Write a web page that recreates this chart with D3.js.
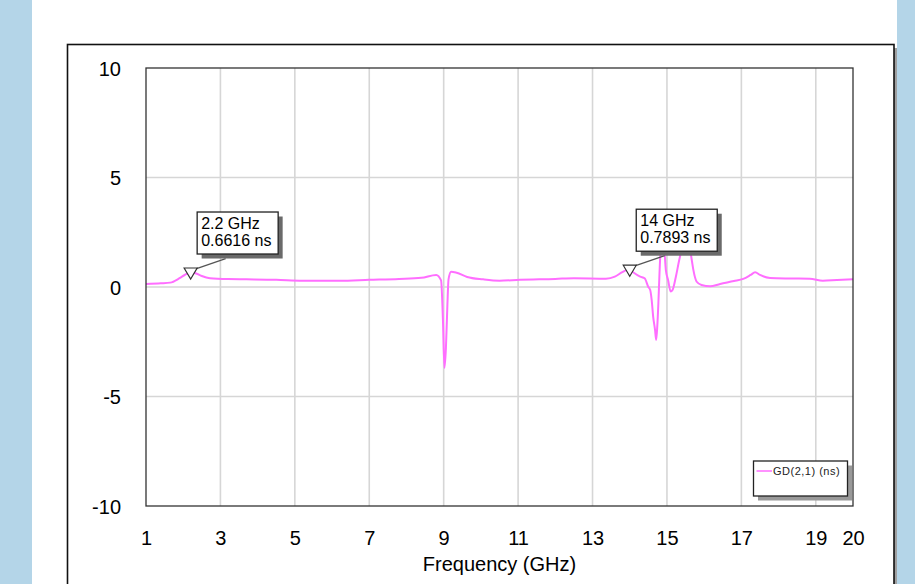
<!DOCTYPE html>
<html>
<head>
<meta charset="utf-8">
<script src="https://cdn.jsdelivr.net/npm/d3@7"></script>
<style>
    body { margin: 0; background: #b4d5e8; }
    svg { display: block; }
    text { font-family: Arial, "Liberation Sans", sans-serif; }
</style>
</head>
<body>
<div id="container"></div>
<script>

// group delay GD(2,1)
const freqs = [1.0, 1.4, 1.65, 1.9, 2.05, 2.2, 2.35, 2.5, 2.72, 3.2, 3.7, 4.5, 5.2, 6.2, 7.0, 7.8, 8.4, 8.8,
    8.93, 8.98, 9.02, 9.06, 9.1, 9.13, 9.2, 9.35, 9.63, 10.06, 10.5, 11.05, 12.0, 12.5, 13.36, 13.6, 13.8, 13.95,
    14.0, 14.1, 14.28, 14.4, 14.5, 14.55, 14.59, 14.63, 14.68, 14.71, 14.74, 14.77, 14.8, 14.83, 14.88, 14.93,
    14.97, 15.03, 15.1, 15.15, 15.24, 15.33, 15.42, 15.52, 15.62, 15.67, 15.71, 15.8, 15.93, 16.16, 16.43, 16.8,
    17.05, 17.25, 17.37, 17.5, 17.77, 18.3, 18.84, 19.19, 19.57, 20.0]
const gd = [0.14, 0.17, 0.2, 0.4, 0.56, 0.66, 0.62, 0.5, 0.4, 0.36, 0.35, 0.33, 0.29, 0.29, 0.33, 0.37, 0.42, 0.55,
    0.3, -1.5, -3.7, -2.8, -0.8, 0.35, 0.7, 0.65, 0.46, 0.35, 0.29, 0.33, 0.37, 0.4, 0.38, 0.47, 0.68, 0.79,
    0.79, 0.66, 0.47, 0.4, 0.0, -0.14, -0.6, -1.36, -1.96, -2.42, -1.8, -0.73, 0.64, 1.69, 2.2, 1.7,
    0.78, 0.32, -0.21, -0.14, 0.47, 1.23, 1.84, 2.0, 1.7, 1.2, 0.78, 0.24, 0.09, 0.03, 0.14, 0.27,
    0.37, 0.55, 0.67, 0.55, 0.41, 0.39, 0.38, 0.29, 0.32, 0.35]

const xTicks = [1, 3, 5, 7, 9, 11, 13, 15, 17, 19, 20]
const yTicks = [10, 5, 0, -5, -10]
const xGrid = [3, 5, 7, 9, 11, 13, 15, 17, 19]
const yGrid = [5, 0, -5]

const markerFreqs = [2.2, 14]
const markerValues = [0.6616, 0.7893]
const markerLabels = [["2.2 GHz", "0.6616 ns"], ["14 GHz", "0.7893 ns"]]

const seriesName = "GD(2,1) (ns)"

let width = 915
let height = 584
let plot = {left: 146, right: 853, top: 68, bottom: 506}
let pink = "#ff6eff"

let data = freqs.map((f, i) => ({f: f, v: gd[i]}))

let svg = d3.select("#container")
    .append("svg")
    .attr("width", width)
    .attr("height", height)

// white page + outer frame
svg.append("rect")
    .attr("x", 32).attr("y", 0)
    .attr("width", 865).attr("height", height)
    .attr("fill", "white")

svg.append("rect")
    .attr("x", 71).attr("y", 48)
    .attr("width", 826).attr("height", 600)
    .attr("fill", "#a0a0a0")

svg.append("rect")
    .attr("x", 67.5).attr("y", 44.5)
    .attr("width", 826.5).attr("height", 600)
    .attr("fill", "white")
    .attr("stroke", "#111")
    .attr("stroke-width", 1.6)

let x = d3.scaleLinear()
    .domain([1, 20])
    .range([plot.left, plot.right])

let y = d3.scaleLinear()
    .domain([-10, 10])
    .range([plot.bottom, plot.top])

// grid
svg.append("g")
    .selectAll("line")
    .data(xGrid)
    .join("line")
        .attr("x1", d => x(d)).attr("x2", d => x(d))
        .attr("y1", plot.top).attr("y2", plot.bottom)
        .attr("stroke", "#d6d6d6")
        .attr("stroke-width", 1.6)

svg.append("g")
    .selectAll("line")
    .data(yGrid)
    .join("line")
        .attr("x1", plot.left).attr("x2", plot.right)
        .attr("y1", d => y(d)).attr("y2", d => y(d))
        .attr("stroke", "#d6d6d6")
        .attr("stroke-width", 1.6)

// axes labels (no tick marks in the original), plain hyphen for minus
let xAxis = svg.append("g")
    .attr("transform", `translate(0,${plot.bottom + 39})`)
    .call(d3.axisBottom(x).tickValues(xTicks).tickSize(0).tickPadding(0).tickFormat(d => String(d)))
xAxis.select(".domain").remove()
xAxis.selectAll("text")
    .attr("dy", 0)
    .attr("font-size", 20)
    .attr("font-family", "Arial, 'Liberation Sans', sans-serif")
    .attr("fill", "#000")

let yAxis = svg.append("g")
    .attr("transform", `translate(121,0)`)
    .call(d3.axisLeft(y).tickValues(yTicks).tickSize(0).tickPadding(0).tickFormat(d => String(d)))
yAxis.select(".domain").remove()
yAxis.selectAll("text")
    .attr("dy", "0.36em")
    .attr("font-size", 20)
    .attr("font-family", "Arial, 'Liberation Sans', sans-serif")
    .attr("fill", "#000")

svg.append("text")
    .attr("x", (plot.left + plot.right) / 2)
    .attr("y", 571)
    .attr("text-anchor", "middle")
    .attr("font-size", 20)
    .text("Frequency (GHz)")

// curve
let line = d3.line()
    .x(d => x(d.f))
    .y(d => y(d.v))
    .curve(d3.curveMonotoneX)

svg.append("path")
    .datum(data)
    .attr("fill", "none")
    .attr("stroke", pink)
    .attr("stroke-width", 2)
    .attr("d", line)

// plot border
svg.append("rect")
    .attr("x", plot.left).attr("y", plot.top)
    .attr("width", plot.right - plot.left).attr("height", plot.bottom - plot.top)
    .attr("fill", "none")
    .attr("stroke", "#333")
    .attr("stroke-width", 1.3)

// markers
let markers = svg.append("g")
    .selectAll("g")
    .data(markerFreqs.map((f, i) => ({f: f, v: markerValues[i], label: markerLabels[i]})))
    .join("g")
    .attr("transform", d => `translate(${x(d.f)},${y(d.v)})`)

markers.append("line")
    .attr("x1", 3).attr("y1", -3)
    .attr("x2", 35).attr("y2", -14)
    .attr("stroke", "#555")
    .attr("stroke-width", 1.3)

markers.append("path")
    .attr("d", "M-6.5,-4.5 L6.5,-4.5 L0,6.5 Z")
    .attr("fill", "white")
    .attr("stroke", "#333")
    .attr("stroke-width", 1.2)

markers.append("rect")
    .attr("x", 11).attr("y", -56)
    .attr("width", 81).attr("height", 42)
    .attr("fill", "#6a6a6a")

markers.append("rect")
    .attr("x", 6.5).attr("y", -60.5)
    .attr("width", 81).attr("height", 42)
    .attr("fill", "white")
    .attr("stroke", "#222")
    .attr("stroke-width", 1.3)

markers.append("text")
    .attr("x", 10.5).attr("y", -44)
    .attr("font-size", 16)
    .text(d => d.label[0])

markers.append("text")
    .attr("x", 10.5).attr("y", -26.5)
    .attr("font-size", 16)
    .text(d => d.label[1])

// legend
let legend = svg.append("g")
    .attr("transform", "translate(753.5,461)")

legend.append("rect")
    .attr("x", 4.5).attr("y", 4.5)
    .attr("width", 94).attr("height", 35)
    .attr("fill", "#999")

legend.append("rect")
    .attr("width", 94).attr("height", 35)
    .attr("fill", "white")
    .attr("stroke", "#222")
    .attr("stroke-width", 1.3)

legend.append("line")
    .attr("x1", 3).attr("x2", 18.5)
    .attr("y1", 10).attr("y2", 10)
    .attr("stroke", pink)
    .attr("stroke-width", 1.5)

legend.append("text")
    .attr("x", 19.5).attr("y", 14)
    .attr("font-size", 11)
    .attr("letter-spacing", 0.5)
    .attr("fill", "#222")
    .text(seriesName)

</script>
</body>
</html>
